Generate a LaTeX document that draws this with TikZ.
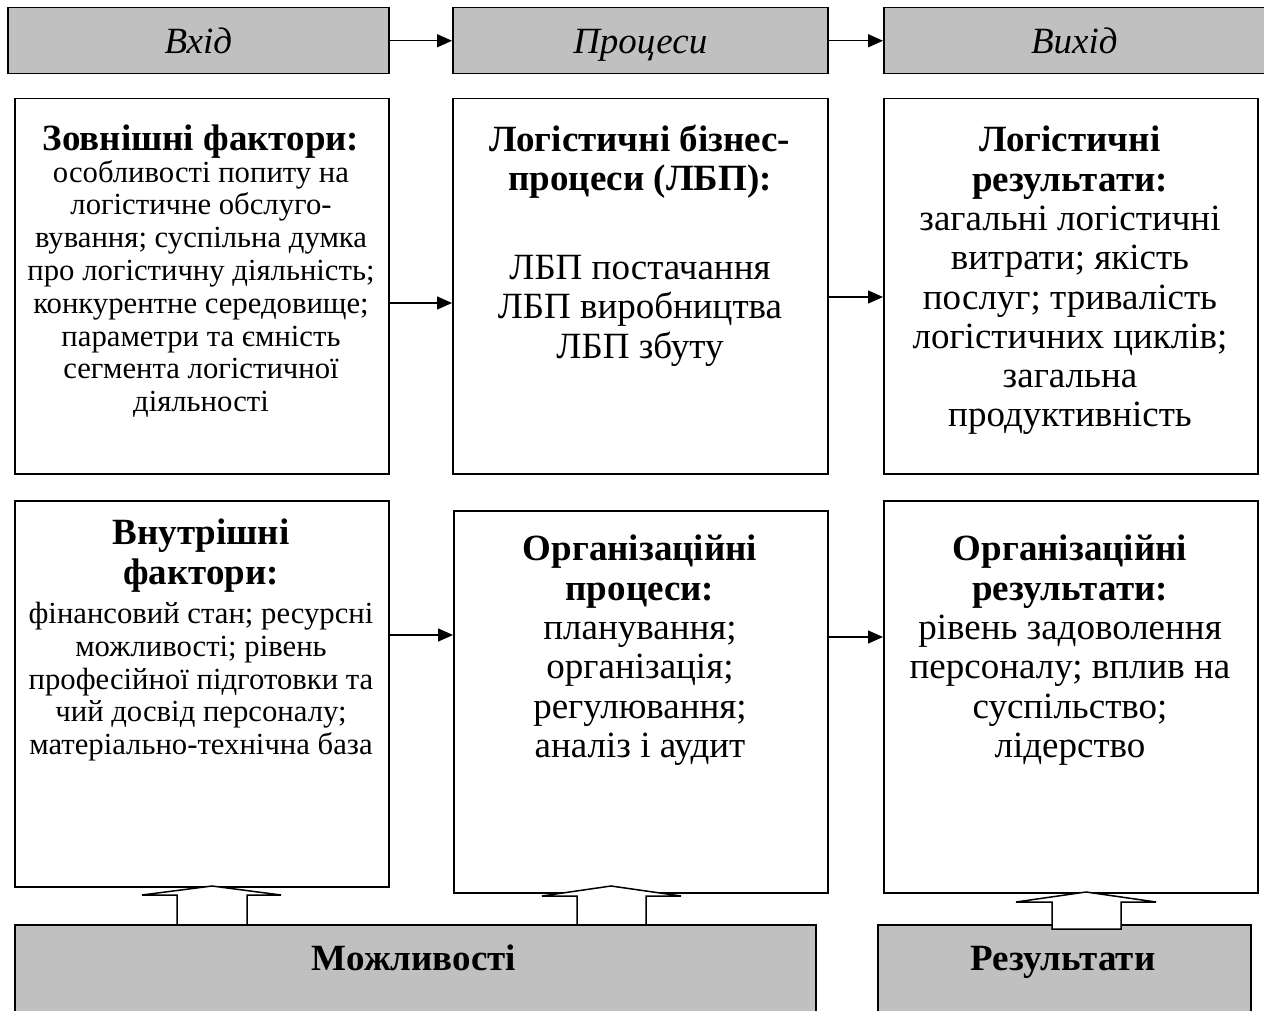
\documentclass[tikz,border=0pt]{standalone}
\usepackage{fontspec}
\setmainfont{Liberation Serif}
\usetikzlibrary{arrows.meta}
\definecolor{boxgray}{HTML}{C0C0C0}
\newcommand\myBig{\fontsize{37}{39.3}\selectfont}
\newcommand\mySmall{\fontsize{30.7}{32.8}\selectfont}
\begin{document}
\begin{tikzpicture}[x=1pt,y=-1pt,
  box/.style={draw, line width=1.5pt, inner sep=0pt, anchor=north west},
  grey/.style={box, fill=boxgray},
  hdr/.style={grey, minimum height=66pt, font=\myBig, text height=30pt, text depth=4pt},
  txt/.style={inner sep=0pt, align=center, anchor=north},
  arr/.style={line width=1.5pt, -{Triangle[length=15pt,width=13pt]}},
  blk/.style={draw, line width=1.5pt, fill=white, line join=miter}]
\useasboundingbox (0,0) rectangle (1264,1011);

% header row
\node[hdr, minimum width=381pt] (hin) at (7,7) {\textit{Вхід}};
\node[hdr, minimum width=375pt] (hproc) at (452,7) {\textit{Процеси}};
\node[hdr, minimum width=381pt] (hout) at (883,7) {\textit{Вихід}};
\draw[arr] (hin.east) -- (hproc.west);
\draw[arr] (hproc.east) -- (hout.west);

% second row
\node[box, minimum width=374pt, minimum height=375pt] (A) at (14,98) {};
\node[box, minimum width=375pt, minimum height=375pt] (B) at (452,98) {};
\node[box, minimum width=374pt, minimum height=375pt] (C) at (883,98) {};

\node[txt, font=\myBig] (At) at (201,125) {\textbf{Зовнішні фактори:}};
\node[txt, font=\mySmall] (Ab) at (201,160) {особливості попиту на\\логістичне обслуго-\\вування; суспільна думка\\про логістичну діяльність;\\конкурентне середовище;\\параметри та ємність\\сегмента логістичної\\діяльності};
\node[txt, font=\myBig] (Bt) at (640,125) {\textbf{Логістичні бізнес-}\\\textbf{процеси (ЛБП):}};
\node[txt, font=\myBig] (Bb) at (640,255) {ЛБП постачання\\ЛБП виробництва\\ЛБП збуту};
\node[txt, font=\myBig] (Ct) at (1070,126) {\textbf{Логістичні}\\\textbf{результати:}\\загальні логістичні\\витрати; якість\\послуг; тривалість\\логістичних циклів;\\загальна\\продуктивність};

\coordinate (ya) at (0,303);
\coordinate (yb) at (0,297);
\draw[arr] (A.east |- ya) -- (B.west |- ya);
\draw[arr] (B.east |- yb) -- (C.west |- yb);

% third row
\node[box, minimum width=374pt, minimum height=386pt] (D) at (14,500) {};
\node[box, minimum width=374pt, minimum height=382pt] (E) at (453,510) {};
\node[box, minimum width=374pt, minimum height=392pt] (F) at (883,500) {};

\node[txt, font=\myBig] (Dt) at (201,519) {\textbf{Внутрішні}\\\textbf{фактори:}};
\node[txt, font=\mySmall] (Db) at (201,602) {фінансовий стан; ресурсні\\можливості; рівень\\професійної підготовки та\\чий досвід персоналу;\\матеріально-технічна база};
\node[txt, font=\myBig] (Et) at (640,535) {\textbf{Організаційні}\\\textbf{процеси:}\\планування;\\організація;\\регулювання;\\аналіз і аудит};
\node[txt, font=\myBig] (Ft) at (1070,535) {\textbf{Організаційні}\\\textbf{результати:}\\рівень задоволення\\персоналу; вплив на\\суспільство;\\лідерство};

\coordinate (yc) at (0,635);
\coordinate (yd) at (0,637);
\draw[arr] (D.east |- yc) -- (E.west |- yc);
\draw[arr] (E.east |- yd) -- (F.west |- yd);

% block arrows (left, middle)
\draw[blk] (177,924) -- (177,895) -- (142,895) -- (212,886) -- (281,895) -- (247,895) -- (247,924);
\draw[blk] (577,924) -- (577,896) -- (542,896) -- (611,886) -- (681,896) -- (646,896) -- (646,924);

% bottom boxes
\node[grey, minimum width=801pt, minimum height=100pt] (M) at (14,924) {};
\node[grey, minimum width=373pt, minimum height=100pt] (R) at (877,924) {};
\node[font=\myBig, inner sep=0pt, anchor=base] (Mt) at (414,970) {\textbf{Можливості}};
\node[font=\myBig, inner sep=0pt, anchor=base] (Rt) at (1063,970) {\textbf{Результати}};

% block arrow (right)
\draw[blk] (1052,929) -- (1052,902) -- (1016,902) -- (1086,892) -- (1156,902) -- (1121,902) -- (1121,929) -- cycle;
\end{tikzpicture}
\end{document}
